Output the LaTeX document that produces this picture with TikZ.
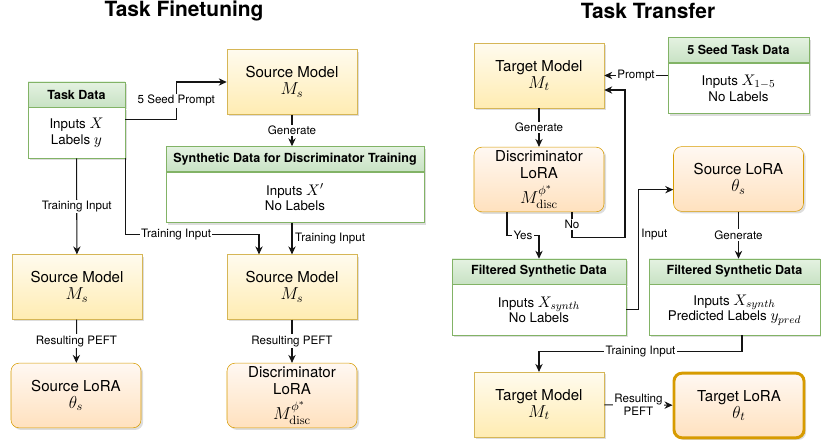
\RequirePackage{fix-cm}
\documentclass[tikz,border=0pt]{standalone}
\usepackage{amsmath}
\usepackage[no-math]{fontspec}
\setmainfont{TeX Gyre Heros}
\usepackage{tikz}
\usetikzlibrary{arrows.meta,positioning,shadows}
\definecolor{modeltop}{RGB}{255,251,238}
\definecolor{modelbot}{RGB}{255,236,178}
\definecolor{modelline}{RGB}{214,182,86}
\definecolor{loratop}{RGB}{255,248,242}
\definecolor{lorabot}{RGB}{255,225,190}
\definecolor{loraline}{RGB}{215,155,0}
\definecolor{datatop}{RGB}{228,242,225}
\definecolor{databot}{RGB}{200,226,196}
\definecolor{dataline}{RGB}{130,179,102}
\definecolor{flowline}{RGB}{20,20,20}
\newcommand{\boxfont}{\fontsize{11.3}{12.8}\selectfont}
\newcommand{\bodyfont}{\fontsize{10}{11.8}\selectfont}
% symbols are set a little larger than the words around them
\newcommand{\boxmath}[1]{{\fontsize{13}{14}\selectfont$#1$}}
\newcommand{\datamath}[1]{{\fontsize{11.5}{12}\selectfont$#1$}}

\tikzset{
  softshadow/.style={drop shadow={shadow xshift=1.6pt,shadow yshift=-1.6pt,opacity=0.22,fill=black!60}},
  model/.style={draw=modelline,top color=modeltop,bottom color=modelbot,
    minimum width=97.5pt,minimum height=48.5pt,align=center,font=\boxfont,
    inner sep=2pt,softshadow},
  lora/.style={model,draw=loraline,top color=loratop,bottom color=lorabot,
    rounded corners=6pt},
  datahead/.style={draw=dataline,top color=datatop,bottom color=databot,
    minimum height=18.75pt,font=\bfseries\fontsize{9.4}{11}\selectfont,
    inner sep=1pt,softshadow},
  databody/.style={draw=dataline,fill=white,minimum height=38pt,align=center,
    font=\bodyfont,inner sep=2pt,softshadow},
  lab/.style={fill=white,inner sep=1pt,font=\fontsize{8.7}{10}\selectfont},
  flow/.style={draw=flowline,line width=0.8pt,-{Stealth[length=6pt,width=5.5pt]}},
  headline/.style={font=\bfseries\fontsize{15.7}{18}\selectfont}
}

\begin{document}
\begin{tikzpicture}[x=0.75pt,y=-0.75pt]
  \useasboundingbox (0,0) rectangle (821,445);

  % headings
  \node[headline] (ftTitle) at (184,11) {Task Finetuning};
  \node[headline] (trTitle) at (648,11) {Task Transfer};

  % ---------------- finetuning side
  \node[datahead,minimum width=72.75pt] (taskHead) at (76.5,94.5) {Task Data};
  \node[databody,minimum width=72.75pt,below=0pt of taskHead] (taskBody)
    {Inputs \datamath{X}\\ Labels \datamath{y}};

  \node[model] (srcTop) at (292,82) {Source Model\\ \boxmath{M_s}};

  \node[datahead,minimum width=193.5pt] (synthHead) at (295,159)
    {Synthetic Data for Discriminator Training};
  \node[databody,minimum width=193.5pt,below=0pt of synthHead] (synthBody)
    {Inputs \datamath{X'}\\ No Labels};

  \node[model] (srcLeft) at (77,287) {Source Model\\ \boxmath{M_s}};
  \node[model] (srcRight) at (292,287) {Source Model\\ \boxmath{M_s}};

  \node[lora] (srcLora) at (76,395.5) {Source LoRA\\ \boxmath{\theta_s}};
  \node[lora] (discLora) at (292,395.5)
    {Discriminator\\ LoRA\\[4pt] \boxmath{M_{\mathrm{disc}}^{\phi^*}}};

  \draw[flow] ([yshift=9.75pt]taskBody.east) -- ++(51,0)
    |- node[lab,pos=0.25] {5 Seed Prompt} (srcTop.west);
  \draw[flow] (srcTop) -- node[lab] {Generate} (srcTop |- synthHead.north);
  \draw[flow] (taskBody) -- node[lab] {Training Input} (srcLeft);
  \draw[flow] (taskBody.south east) -- ++(0,76)
    -| node[lab,pos=0.19] {Training Input} ([xshift=-24.75pt]srcRight.north);
  \draw[flow] (synthBody.south -| srcRight) --
    node[lab,right,fill=none,xshift=1pt] {Training Input} (srcRight);
  \draw[flow] (srcLeft) -- node[lab] {Resulting PEFT} (srcLora);
  \draw[flow] (srcRight) -- node[lab] {Resulting PEFT} (discLora);

  % ---------------- transfer side
  \node[model] (tgtTop) at (539,75.5) {Target Model\\ \boxmath{M_t}};

  \node[datahead,minimum width=105.75pt] (seedHead) at (738.5,50) {5 Seed Task Data};
  \node[databody,minimum width=105.75pt,below=0pt of seedHead] (seedBody)
    {Inputs \datamath{X_{1-5}}\\ No Labels};

  \node[lora] (discT) at (539,179.5)
    {Discriminator\\ LoRA\\[4pt] \boxmath{M_{\mathrm{disc}}^{\phi^*}}};
  \node[lora] (srcLoraT) at (738.5,179) {Source LoRA\\ \boxmath{\theta_s}};

  \node[datahead,minimum width=130.5pt] (filtHead) at (539,271.5) {Filtered Synthetic Data};
  \node[databody,minimum width=130.5pt,below=0pt of filtHead] (filtBody)
    {Inputs \datamath{X_{synth}}\\ No Labels};

  \node[datahead,minimum width=128.25pt] (predHead) at (734.5,271.5) {Filtered Synthetic Data};
  \node[databody,minimum width=128.25pt,below=0pt of predHead] (predBody)
    {Inputs \datamath{X_{synth}}\\ Predicted Labels \datamath{y_{pred}}};

  \node[model] (tgtBot) at (539,404.5) {Target Model\\ \boxmath{M_t}};
  \node[lora,line width=2.2pt] (tgtLora) at (739,405.5) {Target LoRA\\ \boxmath{\theta_t}};

  \draw[flow] (seedBody.west |- tgtTop) -- node[lab] {Prompt} (tgtTop);
  \draw[flow] (tgtTop) -- node[lab] {Generate} (discT);
  \draw[flow] ([xshift=24.75pt]discT.south) -- node[lab] {No} ++(0,25)
    -- ++(53,0) |- ([yshift=-10.9pt]tgtTop.east);
  \draw[flow] ([xshift=-24pt]discT.south) -- ++(0,23)
    -| node[lab,pos=0.25] {Yes} (filtHead.north);
  \draw[flow] (filtBody.east) -- ++(12,0)
    |- node[lab,pos=0.315,right,fill=none,xshift=1pt] {Input} ([yshift=-8pt]srcLoraT.west);
  \draw[flow] (srcLoraT) -- node[lab] {Generate} (srcLoraT |- predHead.north);
  \draw[flow] ([xshift=5.6pt]predBody.south) -- ++(0,16)
    -| node[lab,pos=0.25] {Training Input} (tgtBot);
  \draw[flow] (tgtBot) -- node[lab,align=center] {Resulting\\ PEFT} (tgtLora);
\end{tikzpicture}
\end{document}
